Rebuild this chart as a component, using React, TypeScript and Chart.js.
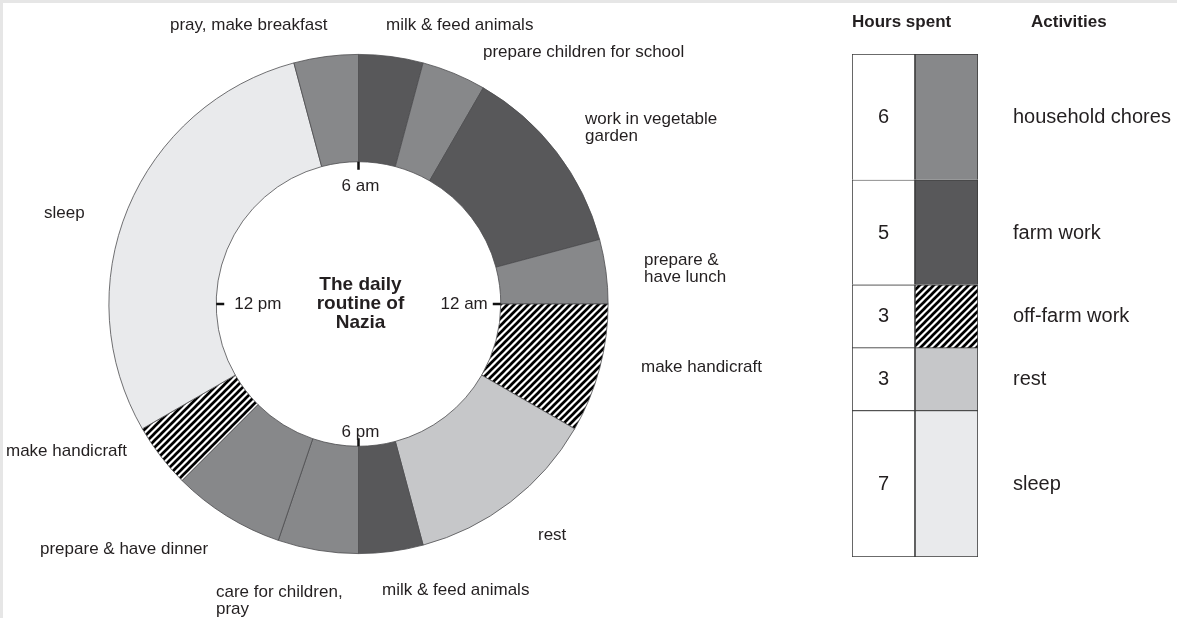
import React, { useEffect, useRef } from 'react';
import { Chart, registerables } from 'chart.js';

Chart.register(...registerables);

// ---------- data ----------
const segmentNames = [
  'milk & feed animals',
  'prepare children for school',
  'work in vegetable garden',
  'prepare & have lunch',
  'make handicraft',
  'rest',
  'milk & feed animals',
  'care for children, pray',
  'prepare & have dinner',
  'make handicraft',
  'sleep',
  'pray, make breakfast',
];
const segmentHours = [1, 1, 3, 1, 2, 3, 1, 1.25, 1.75, 1, 7, 1];
const segmentActivity = [
  'farm', 'household', 'farm', 'household', 'offfarm', 'rest',
  'farm', 'household', 'household', 'offfarm', 'sleep', 'household',
];

const activityKeys = ['household', 'farm', 'offfarm', 'rest', 'sleep'];
const activityNames = ['household chores', 'farm work', 'off-farm work', 'rest', 'sleep'];
const activityHours = [6, 5, 3, 3, 7];

const clockLabels = ['6 am', '12 am', '6 pm', '12 pm'];
const centerTitle = ['The daily', 'routine of', 'Nazia'];
const legendHeaders = ['Hours spent', 'Activities'];

// ---------- styles / layout ----------
const FONT = '"Liberation Sans", Arial, Helvetica, sans-serif';
const TEXT = '#231f20';
const activityColors: Record<string, string> = {
  household: '#87888a',
  farm: '#58585a',
  rest: '#c6c7c9',
  sleep: '#e9eaec',
};
// label layout: left x, first-line center y; lines split by '|'
const segmentLabelLayout: { text: string; x: number; y: number }[] = [
  { text: 'milk & feed animals', x: 386, y: 25 },
  { text: 'prepare children for school', x: 483, y: 52 },
  { text: 'work in vegetable|garden', x: 585, y: 119 },
  { text: 'prepare &|have lunch', x: 644, y: 260 },
  { text: 'make handicraft', x: 641, y: 367 },
  { text: 'rest', x: 538, y: 535 },
  { text: 'milk & feed animals', x: 382, y: 590 },
  { text: 'care for children,|pray', x: 216, y: 592 },
  { text: 'prepare & have dinner', x: 40, y: 549 },
  { text: 'make handicraft', x: 6, y: 451 },
  { text: 'sleep', x: 44, y: 213 },
  { text: 'pray, make breakfast', x: 170, y: 25 },
];

function makeHatch(ctx: CanvasRenderingContext2D) {
  const s = 7;
  const c = document.createElement('canvas');
  c.width = s;
  c.height = s;
  const g = c.getContext('2d')!;
  g.fillStyle = '#ffffff';
  g.fillRect(0, 0, s, s);
  g.strokeStyle = '#000000';
  g.lineWidth = 2.7;
  g.beginPath();
  g.moveTo(-1, s + 1);
  g.lineTo(s + 1, -1);
  g.moveTo(-1, 1);
  g.lineTo(1, -1);
  g.moveTo(s - 1, s + 1);
  g.lineTo(s + 1, s - 1);
  g.stroke();
  return ctx.createPattern(c, 'repeat');
}

function colorFor(key: string, hatch: CanvasPattern | null) {
  if (key === 'offfarm') return hatch as any;
  return activityColors[key];
}

export default function App() {
  const donutRef = useRef<HTMLCanvasElement>(null);
  const legendRef = useRef<HTMLCanvasElement>(null);

  useEffect(() => {
    const dctx = donutRef.current!.getContext('2d')!;
    const lctx = legendRef.current!.getContext('2d')!;
    const hatchD = makeHatch(dctx);
    const hatchL = makeHatch(lctx);

    const donutLabels = {
      id: 'donutLabels',
      afterDraw(chart: any) {
        const ctx = chart.ctx as CanvasRenderingContext2D;
        const arc = chart.getDatasetMeta(0).data[0];
        const cx = arc.x;
        const cy = arc.y;
        const ir = arc.innerRadius;
        ctx.save();
        ctx.fillStyle = TEXT;
        ctx.font = `17px ${FONT}`;
        ctx.textBaseline = 'middle';
        ctx.textAlign = 'left';
        segmentLabelLayout.forEach((l) => {
          l.text.split('|').forEach((line, i) => {
            ctx.fillText(line, l.x, l.y + i * 17);
          });
        });
        // clock ticks
        ctx.strokeStyle = '#111';
        ctx.lineWidth = 2.5;
        const tick = 8;
        ctx.beginPath();
        ctx.moveTo(cx, cy - ir); ctx.lineTo(cx, cy - ir + tick);
        ctx.moveTo(cx + ir, cy); ctx.lineTo(cx + ir - tick, cy);
        ctx.moveTo(cx, cy + ir); ctx.lineTo(cx, cy + ir - tick);
        ctx.moveTo(cx - ir, cy); ctx.lineTo(cx - ir + tick, cy);
        ctx.stroke();
        ctx.font = `17px ${FONT}`;
        ctx.textAlign = 'center';
        ctx.fillText(clockLabels[0], cx + 2, cy - ir + 25);
        ctx.fillText(clockLabels[2], cx + 2, cy + ir - 14);
        ctx.textAlign = 'right';
        ctx.fillText(clockLabels[1], cx + ir - tick - 5, cy);
        ctx.textAlign = 'left';
        ctx.fillText(clockLabels[3], cx - ir + tick + 10, cy);
        // center title
        ctx.font = `bold 19px ${FONT}`;
        ctx.textAlign = 'center';
        centerTitle.forEach((t, i) => ctx.fillText(t, cx + 2, cy - 19 + i * 19));
        ctx.restore();
      },
    };

    const donut = new Chart(dctx, {
      type: 'doughnut',
      data: {
        labels: segmentNames,
        datasets: [
          {
            data: segmentHours,
            backgroundColor: segmentActivity.map((k) => colorFor(k, hatchD)),
            borderColor: '#4d4d4f',
            borderWidth: 0.8,
          },
        ],
      },
      options: {
        responsive: false,
        maintainAspectRatio: false,
        animation: false,
        cutout: '57%',
        rotation: 0,
        layout: { padding: { left: 108, right: 211, top: 54, bottom: 64 } },
        plugins: { legend: { display: false }, tooltip: { enabled: false } },
      },
      plugins: [donutLabels],
    });

    const legendText = {
      id: 'legendText',
      afterDraw(chart: any) {
        const ctx = chart.ctx as CanvasRenderingContext2D;
        const area = chart.chartArea;
        ctx.save();
        ctx.fillStyle = TEXT;
        ctx.textBaseline = 'middle';
        ctx.font = `bold 17px ${FONT}`;
        ctx.textAlign = 'left';
        ctx.fillText(legendHeaders[0], 32, 22);
        ctx.fillText(legendHeaders[1], 211, 22);
        activityKeys.forEach((_, i) => {
          const bar = chart.getDatasetMeta(i).data[0];
          const my = (bar.y + bar.base) / 2;
          ctx.font = `20px ${FONT}`;
          ctx.textAlign = 'center';
          ctx.fillText(String(activityHours[i]), bar.x, my + 1);
          ctx.textAlign = 'left';
          ctx.fillText(activityNames[i], area.right + 35, my + 1);
        });
        ctx.restore();
      },
    };

    const legend = new Chart(lctx, {
      type: 'bar',
      data: {
        labels: ['hours', 'activity'],
        datasets: activityKeys.map((k, i) => ({
          label: activityNames[i],
          data: [activityHours[i], activityHours[i]],
          backgroundColor: ['#ffffff', colorFor(k, hatchL)],
          borderColor: '#3a3a3a',
          borderWidth: { top: 1.2, bottom: i === activityKeys.length - 1 ? 1.2 : 0, left: 1.1, right: 1.1 },
          borderSkipped: false,
          barPercentage: 1,
          categoryPercentage: 1,
        })),
      },
      options: {
        responsive: false,
        maintainAspectRatio: false,
        animation: false,
        layout: { padding: { left: 32, right: 199, top: 54, bottom: 61 } },
        scales: {
          x: { display: false, stacked: true },
          y: { display: false, stacked: true, reverse: true, min: 0, max: 24 },
        },
        plugins: { legend: { display: false }, tooltip: { enabled: false } },
      },
      plugins: [legendText],
    });

    return () => {
      donut.destroy();
      legend.destroy();
    };
  }, []);

  return (
    <div style={{ position: 'absolute', left: 0, top: 0, width: 1177, height: 618, background: '#fff', overflow: 'hidden' }}>
      <div style={{ position: 'absolute', left: 0, top: 0, width: 1177, height: 3, background: '#e6e6e6' }} />
      <div style={{ position: 'absolute', left: 0, top: 0, width: 3, height: 618, background: '#e6e6e6' }} />
      <canvas
        ref={donutRef}
        width={820}
        height={618}
        style={{ position: 'absolute', left: 0, top: 0, width: 820, height: 618 }}
      />
      <canvas
        ref={legendRef}
        width={357}
        height={618}
        style={{ position: 'absolute', left: 820, top: 0, width: 357, height: 618 }}
      />
    </div>
  );
}
